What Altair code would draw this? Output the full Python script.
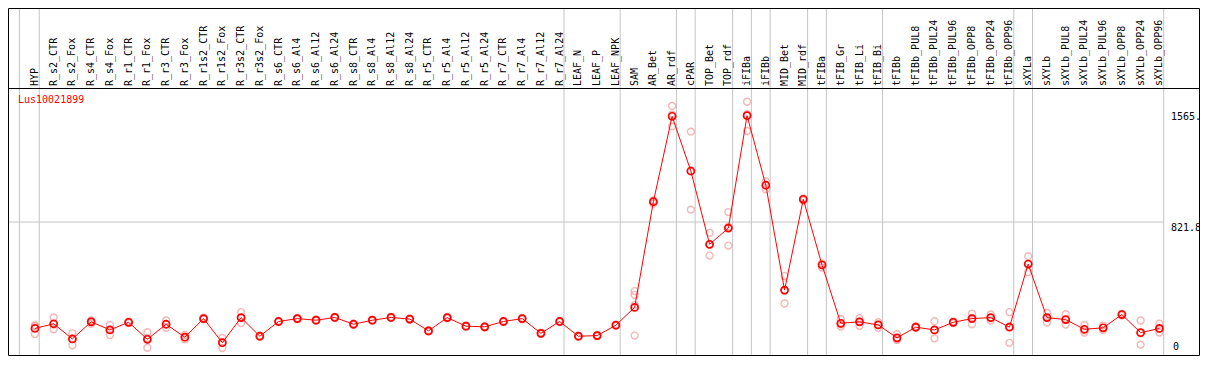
import altair as alt
import pandas as pd

# ---------------- data ----------------
categories = [
    "HYP", "R_s2_CTR", "R_s2_Fox", "R_s4_CTR", "R_s4_Fox", "R_r1_CTR", "R_r1_Fox",
    "R_r3_CTR", "R_r3_Fox", "R_r1s2_CTR", "R_r1s2_Fox", "R_r3s2_CTR", "R_r3s2_Fox",
    "R_s6_CTR", "R_s6_Al4", "R_s6_Al12", "R_s6_Al24", "R_s8_CTR", "R_s8_Al4",
    "R_s8_Al12", "R_s8_Al24", "R_r5_CTR", "R_r5_Al4", "R_r5_Al12", "R_r5_Al24",
    "R_r7_CTR", "R_r7_Al4", "R_r7_Al12", "R_r7_Al24", "LEAF_N", "LEAF_P", "LEAF_NPK",
    "SAM", "AR_Bet", "AR_rdf", "cPAR", "TOP_Bet", "TOP_rdf", "iFIBa", "iFIBb",
    "MID_Bet", "MID_rdf", "tFIBa", "tFIB_Gr", "tFIB_Li", "tFIB_Bi", "tFIBb",
    "tFIBb_PUL8", "tFIBb_PUL24", "tFIBb_PUL96", "tFIBb_OPP8", "tFIBb_OPP24",
    "tFIBb_OPP96", "sXYLa", "sXYLb", "sXYLb_PUL8", "sXYLb_PUL24", "sXYLb_PUL96",
    "sXYLb_OPP8", "sXYLb_OPP24", "sXYLb_OPP96",
]

means = [
    164, 193, 99, 205, 155, 202, 97, 190, 110, 225, 76, 231, 116,
    207, 225, 215, 232, 190, 215, 232, 222, 149, 231, 178, 174,
    207, 225, 134, 207, 116, 120, 184,
    294, 947, 1475, 1137, 684, 784, 1479, 1049, 401, 962,
    556, 196, 205, 186, 106, 172, 155, 202, 225, 231, 172,
    562, 231, 219, 159, 168, 250, 138, 164,
]

replicates = [
    [178, 130, 184], [232, 159, 188], [134, 60, 103], [213, 192, 210],
    [186, 124, 155], [208, 198, 200], [141, 45, 105], [213, 168, 189],
    [124, 97, 109], [230, 221, 224], [105, 43, 80], [265, 197, 231],
    [120, 112, 116], [211, 203, 207], [229, 221, 225], [219, 211, 215],
    [236, 228, 232], [194, 186, 190], [219, 211, 215], [236, 228, 232],
    [226, 218, 222], [153, 145, 149], [235, 227, 231], [182, 174, 178],
    [178, 170, 174], [211, 203, 207], [229, 221, 225], [138, 130, 134],
    [211, 203, 207], [120, 112, 116], [124, 116, 120], [188, 180, 184],
    [395, 372, 308, 120], [955, 935, 950], [1539, 1413, 1485],
    [1380, 898, 1133], [755, 614, 683], [883, 676, 793],
    [1565, 1384, 1488], [1073, 1024, 1050], [488, 318, 397],
    [968, 955, 963], [540, 565, 563], [223, 176, 189], [228, 180, 207],
    [203, 168, 187], [128, 93, 97], [178, 168, 170], [209, 103, 153],
    [207, 197, 202], [256, 190, 229], [250, 213, 230], [265, 75, 176],
    [610, 513, 563], [261, 201, 231], [252, 188, 217], [186, 138, 153],
    [182, 154, 168], [256, 244, 250], [213, 64, 137], [193, 139, 160],
]

group_ends = ["HYP", "R_r7_Al24", "LEAF_NPK", "AR_rdf", "cPAR", "TOP_rdf",
              "iFIBa", "iFIBb", "MID_rdf", "tFIBa", "tFIB_Bi", "tFIBb_OPP96",
              "sXYLa", "sXYLb_OPP96"]
gene = "Lus10021899"
grid_value = 821.8
y_max = 1643.6
ytick_values = [0, 821.8, 1565]
ytick_labels = ["0", "821.8", "1565."]

# ---------------- layout ----------------
W, H = 1155, 266
PAD_L, PAD_T, PAD_R, PAD_B = 1, 81, 36, 1
FONT = "DejaVu Sans Mono"
RED = "#ff0000"
PINK = "#f09a9a"
GRAY = "#c4c4c4"

xs = alt.Scale(domain=[-1.384, 60.247], nice=False, zero=False)
ys = alt.Scale(domain=[0, y_max], nice=False, zero=False)

mean_df = pd.DataFrame({"idx": range(len(categories)), "cat": categories, "value": means})
rep_df = pd.DataFrame(
    [{"idx": i, "value": v} for i, reps in enumerate(replicates) for v in reps]
)
bound_pos = [-0.83] + [categories.index(c) + 0.23 for c in group_ends]
bound_df = pd.DataFrame({"pos": bound_pos})
grid_df = pd.DataFrame({"value": [grid_value]})
title_df = pd.DataFrame({"gene": [gene]})

# frame (decoration, in pixels)
R_EDGE = W + PAD_R - 0.5
frame_df = pd.DataFrame({
    "x": [-0.5, -0.5, -0.5, -0.5, R_EDGE],
    "x2": [R_EDGE, R_EDGE, R_EDGE, -0.5, R_EDGE],
    "y": [-PAD_T + 0.5, -0.5, H + 0.5, -PAD_T + 0.5, -PAD_T + 0.5],
    "y2": [-PAD_T + 0.5, -0.5, H + 0.5, H + 0.5, H + 0.5],
})

bounds = alt.Chart(bound_df).mark_rule(color=GRAY, strokeWidth=1).encode(
    x=alt.X("pos:Q", scale=xs, axis=None),
    y=alt.value(-PAD_T + 1),
    y2=alt.value(H),
)

hgrid = alt.Chart(grid_df).mark_rule(color=GRAY, strokeWidth=1).encode(
    y=alt.Y("value:Q", scale=ys, axis=None),
    x=alt.value(0),
    x2=alt.value(W),
)

frame = alt.Chart(frame_df).mark_rule(color="black", strokeWidth=1).encode(
    x=alt.X("x:Q", scale=None, axis=None),
    x2="x2:Q",
    y=alt.Y("y:Q", scale=None, axis=None),
    y2="y2:Q",
)

reps = alt.Chart(rep_df).mark_point(
    shape="circle", filled=False, color=PINK, size=48, strokeWidth=1.4
).encode(
    x=alt.X("idx:Q", scale=xs, axis=None),
    y=alt.Y("value:Q", scale=ys, axis=None),
)

line = alt.Chart(mean_df).mark_line(color=RED, strokeWidth=1).encode(
    x=alt.X("idx:Q", scale=xs, axis=None),
    y=alt.Y("value:Q", scale=ys, axis=None),
)

pts = alt.Chart(mean_df).mark_point(
    shape="circle", filled=False, color=RED, size=50, strokeWidth=1.7, opacity=1
).encode(
    x=alt.X("idx:Q", scale=xs, axis=None),
    y=alt.Y("value:Q", scale=ys, axis=None),
)

xlabels = alt.Chart(mean_df).mark_text(
    angle=270, align="left", baseline="middle", font=FONT, fontSize=10, color="black"
).encode(
    x=alt.X("idx:Q", scale=xs, axis=None),
    y=alt.value(-3),
    text="cat:N",
)

title = alt.Chart(title_df).mark_text(
    align="left", baseline="top", font=FONT, fontSize=10, color=RED
).encode(x=alt.value(9), y=alt.value(6), text="gene:N")

tick_df = pd.DataFrame({"value": ytick_values, "label": ytick_labels})
ylab_zero = alt.Chart(tick_df.iloc[[0]]).mark_text(
    align="left", baseline="bottom", font=FONT, fontSize=10, color="black", dy=-3
).encode(y=alt.Y("value:Q", scale=ys, axis=None), x=alt.value(W + 9), text="label:N")
ylab_mid = alt.Chart(tick_df.iloc[[1]]).mark_text(
    align="left", baseline="top", font=FONT, fontSize=10, color="black", dy=1
).encode(y=alt.Y("value:Q", scale=ys, axis=None), x=alt.value(W + 7), text="label:N")
ylab_max = alt.Chart(tick_df.iloc[[2]]).mark_text(
    align="left", baseline="top", font=FONT, fontSize=10, color="black", dy=10
).encode(y=alt.Y("value:Q", scale=ys, axis=None), x=alt.value(W + 7), text="label:N")

chart = alt.layer(
    bounds, hgrid, frame, reps, line, pts, xlabels, title, ylab_zero, ylab_mid, ylab_max
).properties(
    width=W,
    height=H,
    padding={"left": PAD_L, "top": PAD_T, "right": PAD_R, "bottom": PAD_B},
    autosize=alt.AutoSizeParams(type="none"),
    background="white",
).configure_view(stroke=None)

chart.save("out.html", embed_options={"renderer": "svg", "actions": False})
